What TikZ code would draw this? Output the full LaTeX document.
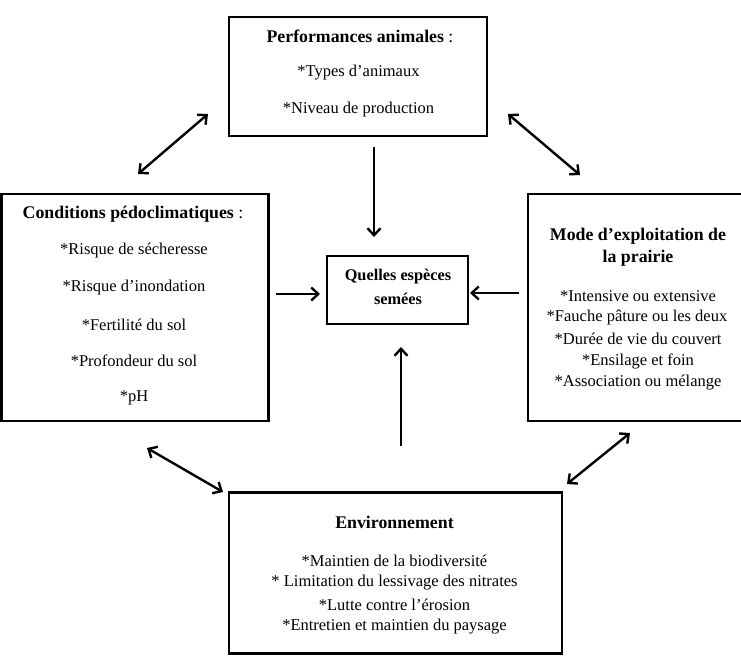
\documentclass[tikz,border=0pt]{standalone}
\usepackage{fontspec}
\setmainfont{Liberation Serif}
\usetikzlibrary{arrows.meta}
\begin{document}
\begin{tikzpicture}[x=1pt,y=-1pt,
  box/.style={draw, line width=2.6pt, inner sep=0pt},
  txt/.style={inner sep=0pt, font=\fontsize{16.5}{19}\selectfont, align=center},
  htxt/.style={inner sep=0pt, font=\fontsize{17.8}{21}\selectfont\bfseries, align=center},
  ctxt/.style={inner sep=0pt, font=\fontsize{16.3}{19}\selectfont\bfseries, align=center},
  arr/.style={line width=2.4pt, -{Straight Barb[length=7pt,width=13pt,line width=2.4pt]}},
  darr/.style={line width=2.4pt, {Straight Barb[length=7pt,width=13pt,line width=2.4pt]}-{Straight Barb[length=7pt,width=13pt,line width=2.4pt]}}]
\useasboundingbox (0,0) rectangle (741,664);
% boxes
\node[box, minimum width=258pt, minimum height=119pt] (top) at (358,76.5) {};
\node[box, minimum width=267pt, minimum height=227pt] (left) at (135,307.5) {};
\node[box, minimum width=222pt, minimum height=227pt] (right) at (639,307.5) {};
\node[box, minimum width=141pt, minimum height=68pt] (center) at (397.5,290) {};
\node[box, minimum width=333pt, minimum height=161pt] (bottom) at (395.5,573) {};
% texts
\node[htxt] (t1) at (360,36) {Performances animales \textmd{:}};
\node[txt] (t2) at (358.5,73) {*Types d’animaux};
\node[txt] (t3) at (358.5,110) {*Niveau de production};

\node[htxt] (l1) at (133,214) {Conditions pédoclimatiques \textmd{:}};
\node[txt] (l2) at (134,251) {*Risque de sécheresse};
\node[txt] (l3) at (134,288) {*Risque d’inondation};
\node[txt] (l4) at (134,325) {*Fertilité du sol};
\node[txt] (l5) at (134,361) {*Profondeur du sol};
\node[txt] (l6) at (134,398) {*pH};

\node[ctxt] (c1) at (398,277) {Quelles espèces};
\node[ctxt] (c2) at (398,299) {semées};

\node[htxt] (r1) at (638,236) {Mode d’exploitation de};
\node[htxt] (r2) at (638,258) {la prairie};
\node[txt] (r3) at (638,296) {*Intensive ou extensive};
\node[txt] (r4) at (637,318) {*Fauche pâture ou les deux};
\node[txt] (r5) at (638,339) {*Durée de vie du couvert};
\node[txt] (r6) at (638,361) {*Ensilage et foin};
\node[txt] (r7) at (638,383) {*Association ou mélange};

\node[htxt] (b1) at (394.5,522) {Environnement};
\node[txt] (b2) at (394.5,561) {*Maintien de la biodiversité};
\node[txt] (b3) at (394.5,583) {* Limitation du lessivage des nitrates};
\node[txt] (b4) at (394.5,605) {*Lutte contre l’érosion};
\node[txt] (b5) at (394.5,627) {*Entretien et maintien du paysage};

% arrow endpoints
\coordinate (a1s) at (208,114); \coordinate (a1e) at (138,174);
\coordinate (a2s) at (508,114); \coordinate (a2e) at (580,175);
\coordinate (a3s) at (374,147); \coordinate (a3e) at (374,237);
\coordinate (a4s) at (276,294); \coordinate (a4e) at (320,294);
\coordinate (a5s) at (519,293); \coordinate (a5e) at (470,293);
\coordinate (a6s) at (401,446); \coordinate (a6e) at (401,347);
\coordinate (a7s) at (147,448); \coordinate (a7e) at (223,492);
\coordinate (a8s) at (630,433); \coordinate (a8e) at (567,484);
\draw[darr] (a1s) -- (a1e);
\draw[darr] (a2s) -- (a2e);
\draw[arr] (a3s) -- (a3e);
\draw[arr] (a4s) -- (a4e);
\draw[arr] (a5s) -- (a5e);
\draw[arr] (a6s) -- (a6e);
\draw[darr] (a7s) -- (a7e);
\draw[darr] (a8s) -- (a8e);
\end{tikzpicture}
\end{document}
